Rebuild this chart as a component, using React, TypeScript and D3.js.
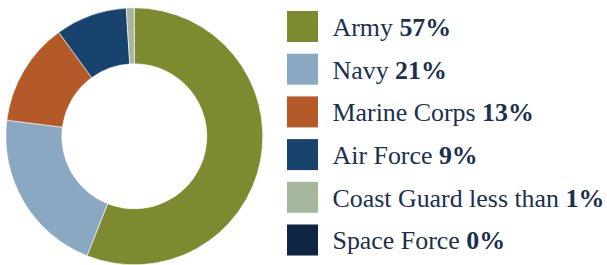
import React from "react";
import * as d3 from "d3";

const branches = ["Army", "Navy", "Marine Corps", "Air Force", "Coast Guard", "Space Force"];
const shares = [56, 21, 13, 9, 1, 0];
const labelPrefixes = ["Army ", "Navy ", "Marine Corps ", "Air Force ", "Coast Guard less than ", "Space Force "];
const labelValues = ["57%", "21%", "13%", "9%", "1%", "0%"];
const colors = ["#7d8a30", "#8ba8c3", "#b45a28", "#19436f", "#a6b79e", "#0e2644"];

export default function App() {
  const W = 607, H = 265;
  const cx = 134.3, cy = 136.3, rOuter = 128.5, rInner = 72.5;
  const pie = d3.pie<number>().sort(null).value((d) => d).startAngle(0).endAngle(2 * Math.PI);
  const arcs = pie(shares);
  const arc = d3.arc<d3.PieArcDatum<number>>().innerRadius(rInner).outerRadius(rOuter);
  const legendY = d3.scaleLinear().domain([0, branches.length - 1]).range([11, 224.5]);
  const textColor = "#1b2f4e";
  return (
    <svg width={W} height={H} style={{ position: "absolute", left: 0, top: 0 }}>
      <g transform={`translate(${cx},${cy})`}>
        {arcs.map((a, i) =>
          a.value > 0 ? (
            <path key={branches[i]} d={arc(a) || ""} fill={colors[i]} stroke="#ffffff" strokeWidth={0.6} />
          ) : null
        )}
      </g>
      {branches.map((b, i) => {
        const y = legendY(i);
        return (
          <g key={b}>
            <rect x={287} y={y} width={31} height={31} fill={colors[i]} />
            <text
              x={332.5}
              y={y + 24.8}
              style={{ fontFamily: "Liberation Serif" }}
              fontSize={25.9}
              fill={textColor}
            >
              {labelPrefixes[i]}
              <tspan fontWeight="bold">{labelValues[i]}</tspan>
            </text>
          </g>
        );
      })}
    </svg>
  );
}
